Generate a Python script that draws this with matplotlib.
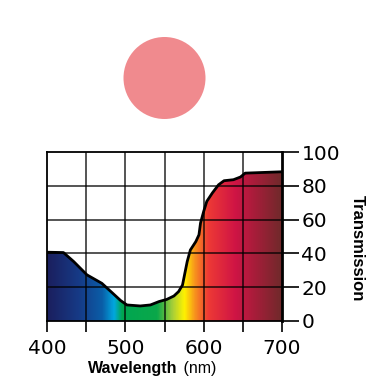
import matplotlib

matplotlib.use("Agg")
import matplotlib.pyplot as plt
import numpy as np
from matplotlib.colors import LinearSegmentedColormap
from matplotlib.patches import Circle, Polygon

# transmission curve
wavelength = [400, 421, 434, 451, 470, 483, 494, 502, 519, 532, 543, 553, 562, 568, 573,
              576, 579, 583, 590, 594, 596, 600, 604, 611, 619, 626, 638, 647, 653, 700]
transmission = [40.7, 40.5, 35.2, 27.3, 22.3, 16.8, 12.1, 9.5, 8.9, 9.5, 11.5, 12.8, 14.8,
                17.4, 21.3, 28.3, 35.2, 42.0, 47.0, 51.0, 58.0, 64.8, 70.8, 75.7, 80.6,
                83.0, 83.6, 85.2, 87.5, 88.3]

# spectrum colours along the wavelength axis
spec_nm = [400, 440, 470, 485, 495, 540, 560, 575, 588, 605, 640, 700]
spec_col = ["#1b1f5e", "#163a86", "#0a5ea8", "#00a8e0", "#00a651", "#0ba84a",
            "#a8cf38", "#fff200", "#f7941d", "#ee3a35", "#cf1445", "#6e2a2a"]

x_ticks = [400, 500, 600, 700]
y_ticks = [0, 20, 40, 60, 80, 100]
swatch = "#f08a8e"

plt.rcParams["font.family"] = ["DejaVu Sans"]
label_font = ["Liberation Sans", "DejaVu Sans"]

fig = plt.figure(figsize=(3.8, 3.8), dpi=100)
ax = fig.add_axes([47 / 380, 1 - 321 / 380, 235 / 380, 169 / 380])
ax.set_xlim(400, 700)
ax.set_ylim(0, 100)

# gradient fill under the curve
pos = [(n - 400) / 300 for n in spec_nm]
cmap = LinearSegmentedColormap.from_list("spec", list(zip(pos, spec_col)))
grad = np.linspace(0, 1, 600).reshape(1, -1)
img = ax.imshow(grad, cmap=cmap, extent=[400, 700, 0, 100], aspect="auto", zorder=1)
verts = list(zip(wavelength, transmission)) + [(700, 0), (400, 0)]
poly = Polygon(verts, closed=True, facecolor="none", edgecolor="none")
ax.add_patch(poly)
img.set_clip_path(poly)
ax.plot(wavelength, transmission, color="black", lw=2, zorder=3, solid_joinstyle="round")

# grid
for gx in range(450, 700, 50):
    ax.axvline(gx, color="black", lw=1.1, alpha=0.85, zorder=2)
for gy in range(20, 100, 20):
    ax.axhline(gy, color="black", lw=1.1, alpha=0.85, zorder=2)

for side in ["left", "top", "bottom"]:
    ax.spines[side].set_linewidth(1.3)
ax.spines["right"].set_linewidth(2)

ax.set_xticks(range(400, 701, 50))
ax.set_xticklabels([str(v) if v in x_ticks else "" for v in range(400, 701, 50)])
ax.tick_params(axis="x", direction="out", length=8, width=1.2, labelsize=14.5, pad=5)
ax.yaxis.tick_right()
ax.set_yticks(y_ticks)
ax.tick_params(axis="y", direction="out", length=12, width=1.2, labelsize=14.5, pad=2,
               left=False)

ax.text(567, -28, "Wavelength", fontsize=11.5, fontweight="bold", family=label_font,
        ha="right", va="center", clip_on=False)
ax.text(569, -28, " (nm)", fontsize=11.5, family=label_font, ha="left", va="center",
        clip_on=False)
fig.text(357 / 380, 1 - 248 / 380, "Transmission", rotation=-90, fontsize=12,
         fontweight="bold", family=label_font, ha="center", va="center")

fig.patches.append(Circle((164.5 / 380, 1 - 78 / 380), 41 / 380, transform=fig.transFigure,
                          facecolor=swatch, edgecolor="none"))

fig.savefig("out.png", dpi=100)
